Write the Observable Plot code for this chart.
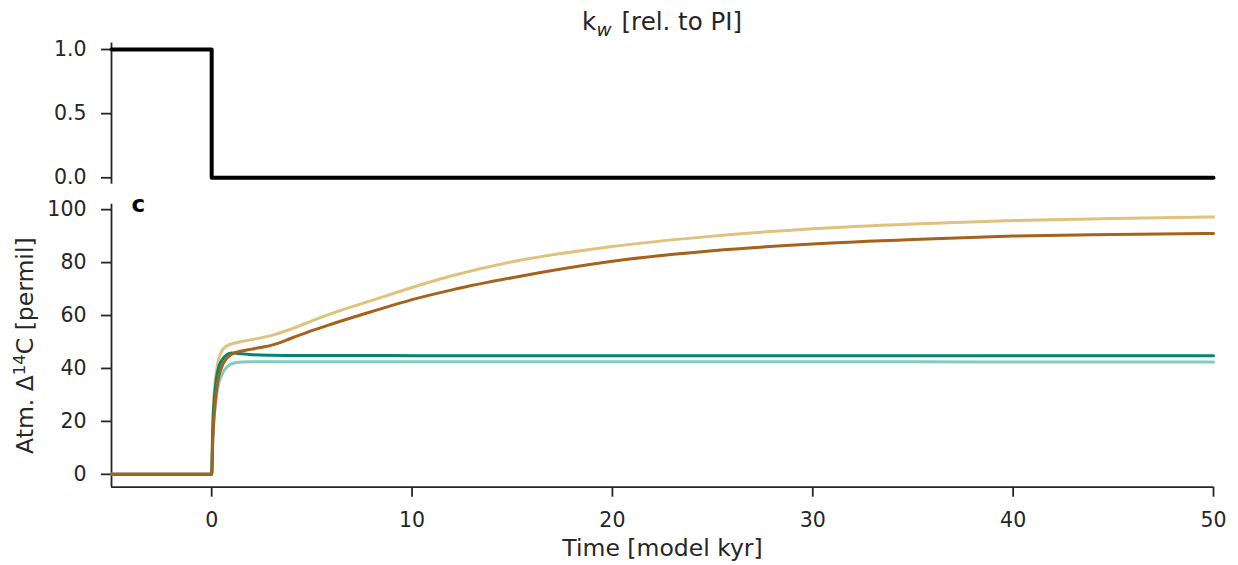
<!DOCTYPE html>
<html><head><meta charset="utf-8">
<script src="https://cdn.jsdelivr.net/npm/d3@7"></script>
<script src="https://cdn.jsdelivr.net/npm/@observablehq/plot@0.6"></script>
<style>
body{margin:0;background:#fff;}
#wrap{position:relative;width:1238px;height:565px;font-family:"DejaVu Sans";}
#title{position:absolute;left:111px;width:1102px;top:7px;text-align:center;font-size:24.5px;color:#262626;line-height:normal;z-index:2;}
#title i{font-size:0.75em;position:relative;top:0.3em;margin-right:0.12em;margin-left:0.02em;}
svg{display:block}
</style></head>
<body><div id="wrap"><div id="title">k<i>w</i> [rel. to PI]</div><div id="top"></div><div id="bot"></div></div>
<script>
// ---- data ----
const kwTime = [-5, 0, 0, 50];
const kwValue = [1, 1, 0, 0];
const kwTicks = [0, 0.5, 1.0];

const time = [-5, 0, 0.05, 0.1, 0.2, 0.3, 0.5, 0.75, 1, 1.5, 2, 3, 4, 5, 6, 8, 10, 12, 15, 20, 25, 30, 35, 40, 45, 50];
const goldValues  = [0, 0, 20, 28, 37, 42, 46.5, 48.5, 49.3, 50.2, 50.9, 52.5, 55, 58, 60.8, 65.7, 70.6, 75, 80.3, 86.1, 90, 92.8, 94.6, 95.9, 96.7, 97.2];
const lightTealValues = [0, 0, 12, 19, 27, 32.5, 37.5, 40.5, 41.8, 42.4, 42.5, 42.5, 42.5, 42.5, 42.5, 42.5, 42.5, 42.5, 42.5, 42.5, 42.5, 42.5, 42.5, 42.4, 42.4, 42.4];
const darkTealValues = [0, 0, 16, 25, 34, 39, 43, 45.2, 45.8, 45.6, 45.2, 45, 44.9, 44.9, 44.9, 44.9, 44.85, 44.85, 44.8, 44.8, 44.8, 44.8, 44.8, 44.8, 44.8, 44.8];
const brownValues = [0, 0, 12, 20, 29, 35, 40.5, 43.8, 45.4, 46.6, 47.3, 48.8, 51.5, 54.3, 56.8, 61.5, 66, 69.7, 74.3, 80.5, 84.5, 87, 88.7, 90, 90.6, 91.0];

const seriesNames = ["gold", "lightTeal", "darkTeal", "brown"];
const seriesColors = ["#dfc27d", "#80cdc1", "#018571", "#a6611a"];
const seriesValues = [goldValues, lightTealValues, darkTealValues, brownValues];

const xTicks = [0, 10, 20, 30, 40, 50];
const yTicks = [0, 20, 40, 60, 80, 100];
const xDomain = [-5, 50];
const yDomain = [-4.86, 102.06];
const kwDomain = [-0.05, 1.05];

// ---- build ----
const ink = "#262626";
const common = {
  width: 1238, marginLeft: 111, marginRight: 25,
  style: {fontFamily: "DejaVu Sans", fontSize: "20.5px", color: ink, background: "white", overflow: "visible"}
};

const kwData = kwTime.map((t, i) => ({t, v: kwValue[i]}));

const topPlot = Plot.plot({
  ...common, height: 190, marginTop: 42.6, marginBottom: 6.3,
  x: {domain: xDomain, axis: null},
  y: {domain: kwDomain},
  marks: [
    Plot.ruleX([xDomain[0]], {stroke: ink, strokeWidth: 1.8}),
    Plot.axisY({ticks: kwTicks, tickFormat: d3.format(".1f"), tickSize: 10, tickPadding: 15, strokeWidth: 1.8, label: null}),
    Plot.line(kwData, {x: "t", y: "v", stroke: "black", strokeWidth: 4})
  ]
});
document.getElementById("top").appendChild(topPlot);

const rows = [];
seriesNames.forEach((name, s) => {
  time.forEach((t, i) => rows.push({name, t, v: seriesValues[s][i]}));
});

const lineMarks = seriesNames.map((name, s) =>
  Plot.line(rows.filter(d => d.name === name), {x: "t", y: "v", stroke: seriesColors[s], strokeWidth: 3, curve: "monotone-x"})
);

const yLabel = "Atm. Δ14C [permil]";
const botPlot = Plot.plot({
  ...common, height: 375, marginTop: 13.7, marginBottom: 78.3,
  x: {domain: xDomain},
  y: {domain: yDomain},
  marks: [
    Plot.ruleX([xDomain[0]], {stroke: ink, strokeWidth: 1.8}),
    Plot.ruleY([yDomain[0]], {stroke: ink, strokeWidth: 1.8}),
    Plot.axisY({ticks: yTicks, tickSize: 10, tickPadding: 15, strokeWidth: 1.8, label: null}),
    Plot.axisX({ticks: xTicks, tickSize: 10, tickPadding: 15, strokeWidth: 1.8, label: null}),
    ...lineMarks,
    Plot.text(["c"], {text: d => d, frameAnchor: "top-left", dx: 20, dy: 7.5, lineAnchor: "bottom", textAnchor: "start", fontWeight: "bold", fontSize: 23, fill: "black"}),
    Plot.text(["Time [model kyr]"], {text: d => d, frameAnchor: "bottom", dy: 61, lineAnchor: "middle", textAnchor: "middle", fontSize: 23.5, fill: ink}),
    Plot.text([yLabel], {text: d => d, frameAnchor: "left", dx: -86, rotate: -90, lineAnchor: "middle", textAnchor: "middle", fontSize: 23.5, fill: ink})
  ]
});
document.getElementById("bot").appendChild(botPlot);

// render the "14" as a superscript
d3.select(botPlot).selectAll("text").each(function() {
  if (this.textContent === yLabel) {
    const t = d3.select(this);
    t.text(null);
    t.append("tspan").text("Atm. Δ");
    t.append("tspan").attr("baseline-shift", "8.5px").attr("font-size", "16.5px").text("14");
    t.append("tspan").text("C [permil]");
  }
});
</script>
</body></html>
